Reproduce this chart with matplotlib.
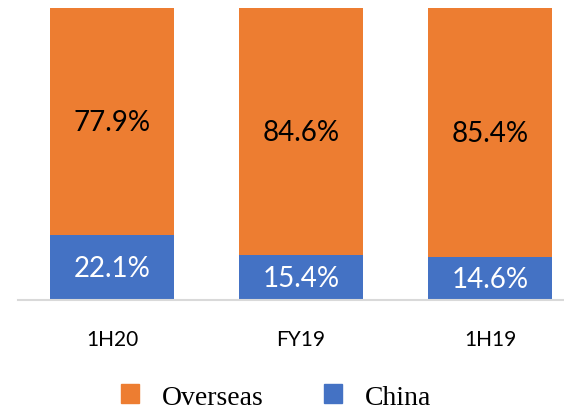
import matplotlib.pyplot as plt
from matplotlib.patches import Patch

periods = ['1H20', 'FY19', '1H19']
china = [22.1, 15.4, 14.6]
overseas = [77.9, 84.6, 85.4]

orange = '#ED7D31'
blue = '#4472C4'

fig = plt.figure(figsize=(5.64, 4.10), dpi=100)
ax = fig.add_axes([17.5 / 564, 109 / 410, 567 / 564, 292 / 410])

x = range(len(periods))
ax.bar(x, china, width=0.66, color=blue)
ax.bar(x, overseas, width=0.66, bottom=china, color=orange)

for i in x:
    ax.text(i, china[i] / 2, f'{china[i]:.1f}%', ha='center', va='center',
            color='white', fontsize=20, family='Lato')
    ax.text(i, china[i] + overseas[i] / 2, f'{overseas[i]:.1f}%', ha='center',
            va='center', color='black', fontsize=20, family='Lato')

ax.set_xlim(-0.5, 2.5)
ax.set_ylim(0, 100)
ax.set_yticks([])
ax.set_xticks(list(x))
ax.set_xticklabels(periods, fontsize=15, family='Lato')
ax.tick_params(axis='x', length=0, pad=21)
for s in ['top', 'right', 'left']:
    ax.spines[s].set_visible(False)
ax.spines['bottom'].set_color('#D9D9D9')
ax.spines['bottom'].set_linewidth(1.5)

handles = [Patch(color=orange, label='Overseas'), Patch(color=blue, label='China')]
fig.legend(handles=handles, loc='center', bbox_to_anchor=(276 / 564, 12 / 410),
           ncol=2, frameon=False, prop={'family': 'Liberation Serif', 'size': 20},
           handlelength=0.65, handleheight=0.65, handletextpad=0.8, columnspacing=2.2,
           borderpad=0)

fig.savefig('out.png', dpi=100)
